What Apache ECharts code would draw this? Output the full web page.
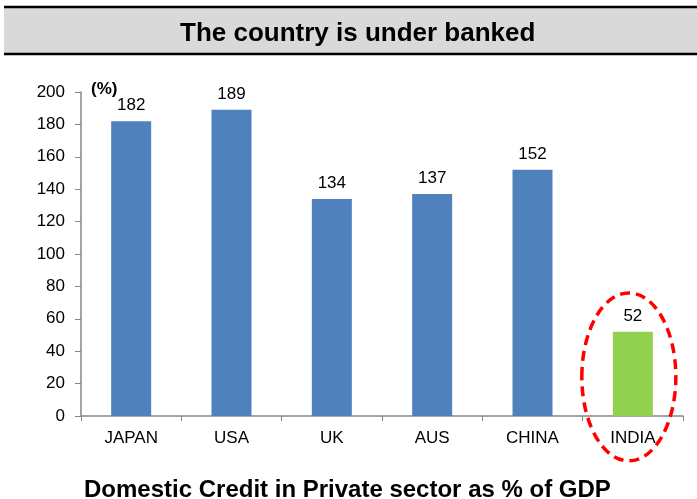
<!DOCTYPE html>
<html>
<head>
<meta charset="utf-8">
<script src="https://cdn.jsdelivr.net/npm/echarts@6/dist/echarts.min.js"></script>
<style>
html,body{margin:0;padding:0;background:#fff;}
#chart{width:697px;height:499px;}
</style>
</head>
<body>
<div id="chart"></div>
<script>
// Domestic credit to the private sector, % of GDP
const countries = ['JAPAN', 'USA', 'UK', 'AUS', 'CHINA', 'INDIA'];
const creditPct = [182, 189, 134, 137, 152, 52];
const yTicks = [0, 20, 40, 60, 80, 100, 120, 140, 160, 180, 200];
const highlight = 'INDIA';

const FONT = '"Liberation Sans", Arial, sans-serif';
const chart = echarts.init(document.getElementById('chart'), null, { renderer: 'canvas' });

const barData = countries.map((c, i) => ({
  value: creditPct[i],
  itemStyle: { color: c === highlight ? '#92D050' : '#4F81BD' }
}));

chart.setOption({
  animation: false,
  backgroundColor: '#fff',
  title: [{
    text: 'The country is under banked',
    left: 175, top: 16,
    textStyle: { fontFamily: FONT, fontSize: 26, fontWeight: 'bold', color: '#000' }
  }, {
    text: 'Domestic Credit in Private sector as % of GDP',
    left: 79, top: 473,
    textStyle: { fontFamily: FONT, fontSize: 24, fontWeight: 'bold', color: '#000' }
  }],
  grid: { left: 81, right: 14, top: 92, bottom: 83 },
  xAxis: {
    type: 'category',
    data: countries,
    axisLine: { lineStyle: { color: '#868686', width: 1.5 } },
    axisTick: { show: true, length: 5, lineStyle: { color: '#868686' } },
    axisLabel: { fontFamily: FONT, fontSize: 17, color: '#000', margin: 14 }
  },
  yAxis: {
    type: 'value',
    min: yTicks[0], max: yTicks[yTicks.length - 1], interval: yTicks[1] - yTicks[0],
    name: '(%)',
    nameLocation: 'end',
    nameGap: -6,
    nameTextStyle: { fontFamily: FONT, fontSize: 17, fontWeight: 'bold', color: '#000', align: 'left', padding: [0, 0, 0, 10], verticalAlign: 'bottom' },
    axisLine: { show: true, lineStyle: { color: '#868686', width: 1.5 } },
    axisTick: { show: true, length: 6, lineStyle: { color: '#868686' } },
    splitLine: { show: false },
    axisLabel: { fontFamily: FONT, fontSize: 17, color: '#000', margin: 16 }
  },
  series: [{
    type: 'bar',
    data: barData,
    barWidth: 40,
    label: { show: true, position: 'top', distance: 7, fontFamily: FONT, fontSize: 17, color: '#000' }
  }]
});

// Header band and the dashed highlight ring around the highlighted bar
function drawOverlay() {
  const idx = countries.indexOf(highlight);
  const base = chart.convertToPixel({ xAxisIndex: 0, yAxisIndex: 0 }, [idx, 0]);
  const top = chart.convertToPixel({ xAxisIndex: 0, yAxisIndex: 0 }, [idx, creditPct[idx]]);
  const cx = base[0] - 4;
  const cy = (base[1] + top[1]) / 2 + 3;
  chart.setOption({
    graphic: [
      { type: 'rect', z: -1, shape: { x: 4, y: 8, width: 693, height: 46 }, style: { fill: '#D9D9D9' } },
      { type: 'line', shape: { x1: 4, y1: 7, x2: 697, y2: 7 }, style: { stroke: '#000', lineWidth: 2.5 } },
      { type: 'line', shape: { x1: 4, y1: 54, x2: 697, y2: 54 }, style: { stroke: '#000', lineWidth: 2.5 } },
      { type: 'ellipse', z: 100, shape: { cx: cx, cy: cy, rx: 47, ry: 84 },
        style: { fill: 'none', stroke: '#FF0000', lineWidth: 3.5, lineDash: [10, 6] } }
    ]
  });
}
drawOverlay();
</script>
</body>
</html>
